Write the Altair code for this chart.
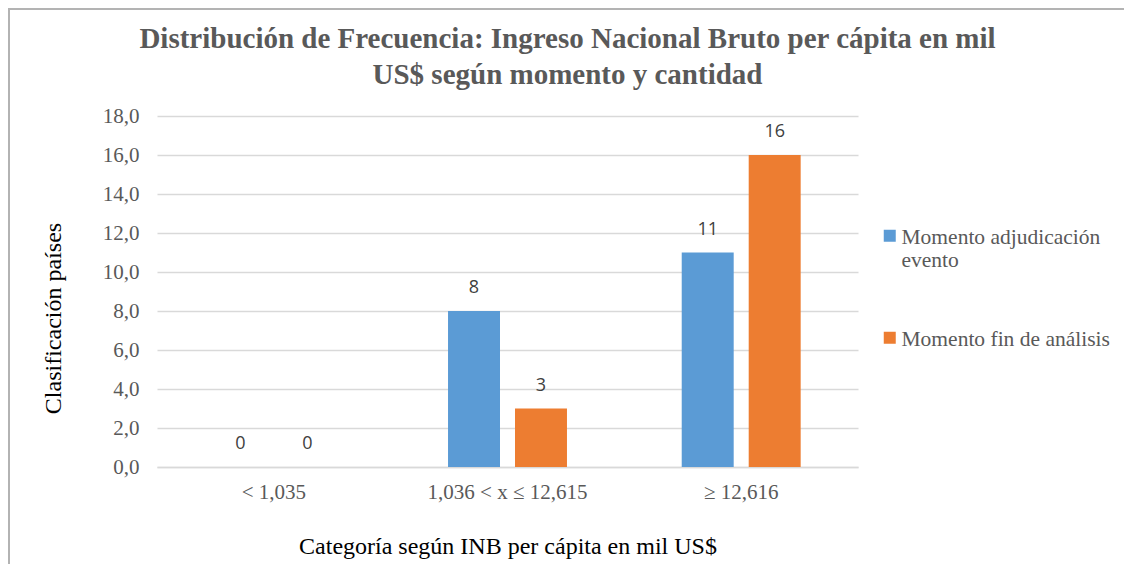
import altair as alt
import pandas as pd

categories = ["< 1,035", "1,036 < x ≤ 12,615", "≥ 12,616"]
series = ["Momento adjudicación evento", "Momento fin de análisis"]
adjudicacion = [0, 8, 11]
fin_analisis = [0, 3, 16]
colors = ["#5B9BD5", "#ED7D31"]
y_ticks = [0, 2, 4, 6, 8, 10, 12, 14, 16, 18]

rows = []
for i, c in enumerate(categories):
    rows.append({"cat": c, "serie": series[0], "val": adjudicacion[i]})
    rows.append({"cat": c, "serie": series[1], "val": fin_analisis[i]})
df = pd.DataFrame(rows)

SERIF = "Liberation Serif"
W, H = 701, 351

x_enc = alt.X("cat:N", sort=categories,
              scale=alt.Scale(paddingInner=0.491, paddingOuter=0.2453),
              axis=alt.Axis(title="Categoría según INB per cápita en mil US$",
                            labelAngle=0, labelFont=SERIF, labelFontSize=21,
                            labelColor="#595959", labelPadding=14, ticks=False,
                            domainColor="#D9D9D9", domainWidth=1.3,
                            titleFont=SERIF, titleFontSize=24, titleFontWeight="normal",
                            titleColor="#000000", titlePadding=32))
xo_enc = alt.XOffset("serie:N", sort=series,
                     scale=alt.Scale(paddingInner=0.224, paddingOuter=0))
y_enc = alt.Y("val:Q",
              scale=alt.Scale(domain=[0, 18], nice=False),
              axis=alt.Axis(title="Clasificación países", values=y_ticks,
                            labelExpr="replace(format(datum.value, '.1f'), '.', ',')",
                            labelOverlap=False,
                            labelFont=SERIF, labelFontSize=21, labelColor="#595959",
                            labelPadding=18, ticks=False, domain=False,
                            gridColor="#D9D9D9", gridWidth=1.3,
                            titleFont=SERIF, titleFontSize=24, titleFontWeight="normal",
                            titleColor="#000000", titleX=-104, titleY=202,
                            titleBaseline="middle", titleAngle=-90))
color_enc = alt.Color("serie:N", sort=series,
                      scale=alt.Scale(domain=series, range=colors),
                      legend=alt.Legend(title=None, orient="none", legendX=722, legendY=100,
                                        labelFont=SERIF, labelFontSize=21.5, labelColor="#595959",
                                        labelLimit=400, labelBaseline="top",
                                        labelExpr="datum.label == 'Momento adjudicación evento' ? ['Momento adjudicación', 'evento'] : datum.label",
                                        symbolType="M-1,0.5H1V2.5H-1Z", symbolSize=144,
                                        symbolStrokeWidth=0, rowPadding=46, padding=0,
                                        symbolOffset=0, labelOffset=1))

base = alt.Chart(df)
bars = base.mark_bar().encode(x=x_enc, xOffset=xo_enc, y=y_enc, color=color_enc)
labels = base.mark_text(font="Open Sans", fontSize=18, color="#404040",
                        baseline="alphabetic", dy=-18).encode(
    x=x_enc, xOffset=xo_enc, y=y_enc, text=alt.Text("val:Q", format="d"))

border_data = alt.Data(values=[{"k": 1}])
left_border = alt.Chart(border_data).mark_rule(color="#B3B3B3", strokeWidth=2).encode(
    x=alt.value(-148), y=alt.value(-108), y2=alt.value(H + 100))
top_border = alt.Chart(border_data).mark_rule(color="#B3B3B3", strokeWidth=2).encode(
    x=alt.value(-149), x2=alt.value(W + 270), y=alt.value(-107))

chart = alt.layer(bars, labels, left_border, top_border).properties(
    width=W, height=H,
    padding={"left": 149, "top": 108, "right": 266, "bottom": 97},
    autosize=alt.AutoSizeParams(type="none"),
    title=alt.TitleParams(
        ["Distribución de Frecuencia: Ingreso Nacional Bruto per cápita en mil",
         "US$ según momento y cantidad"],
        font=SERIF, fontSize=29, fontWeight="bold", color="#595959",
        anchor="middle", dx=60, dy=111, offset=28, lineHeight=36),
).configure(background="white").configure_view(stroke=None)

chart.save("out.html", embed_options={"renderer": "svg", "actions": False})
